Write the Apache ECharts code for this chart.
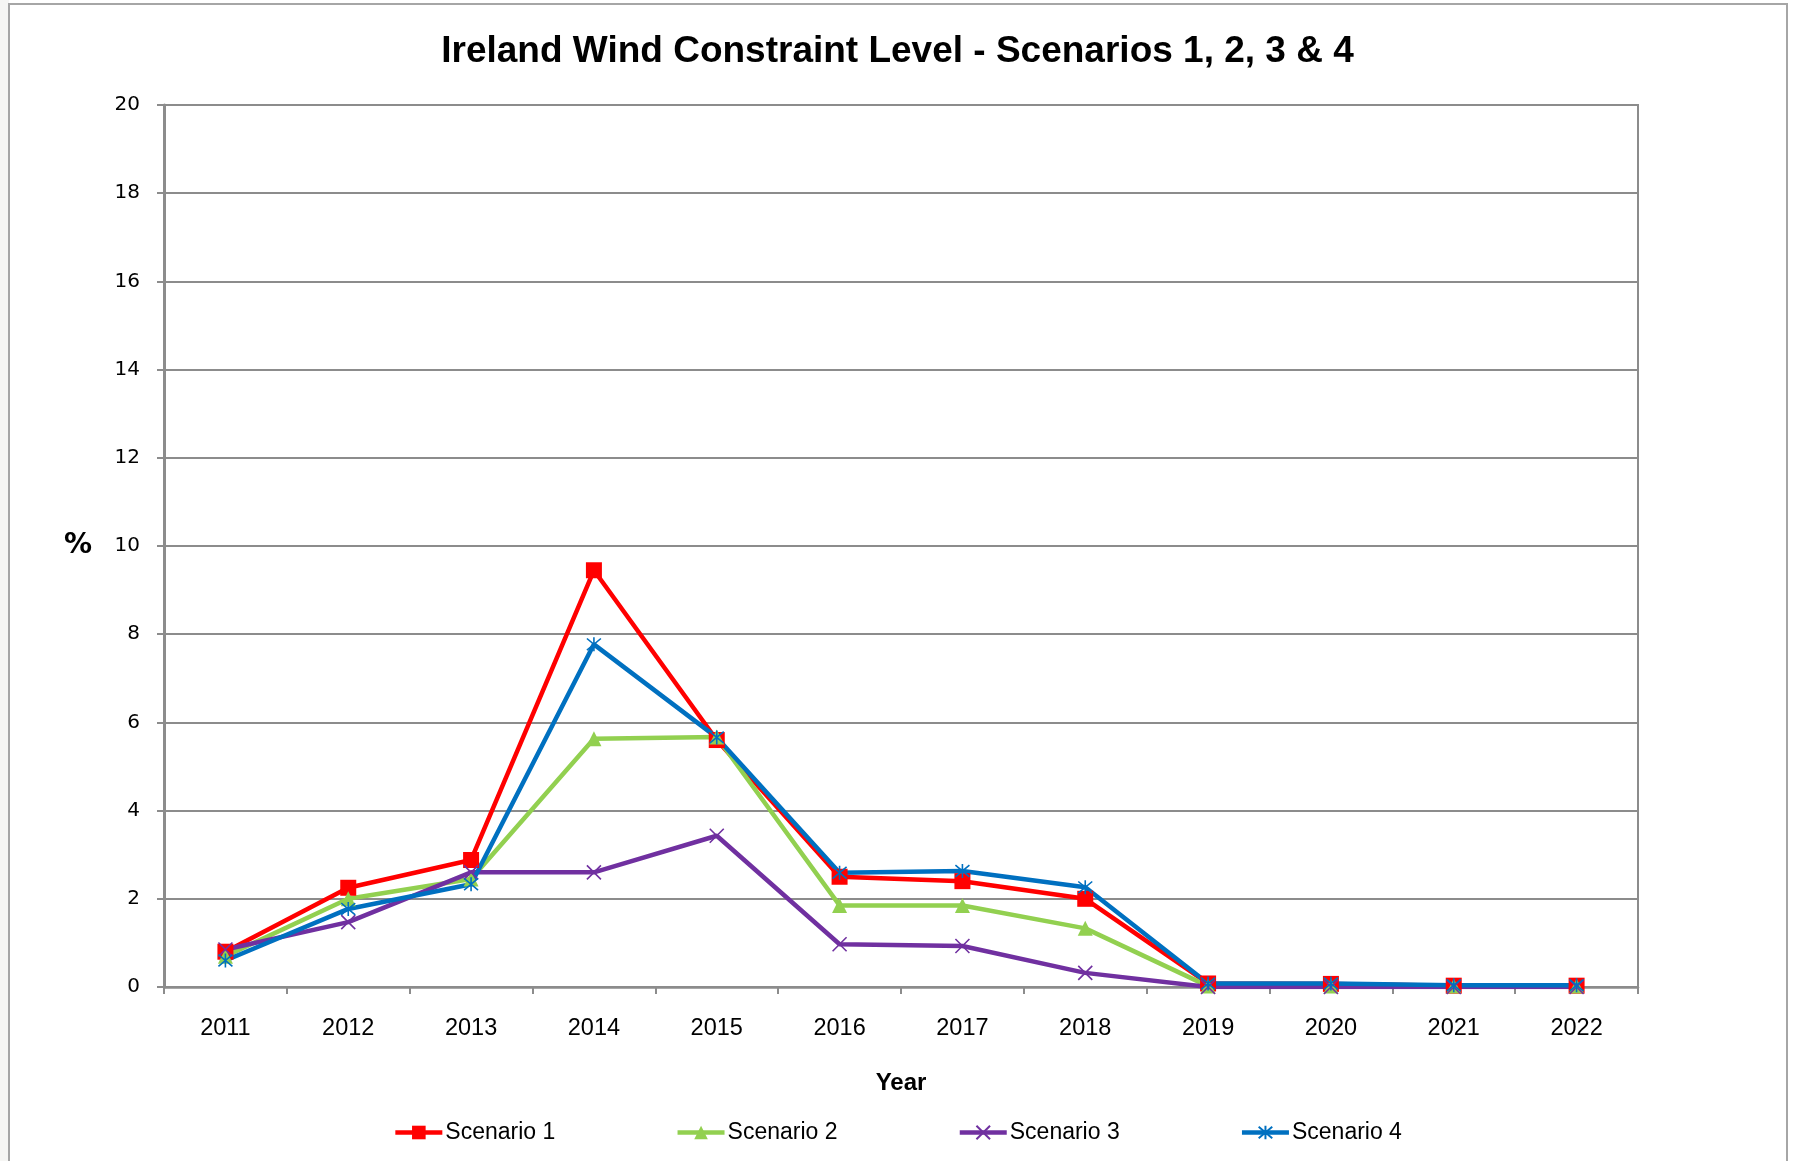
<!DOCTYPE html>
<html>
<head>
<meta charset="utf-8">
<title>Ireland Wind Constraint Level</title>
<script src="https://cdn.jsdelivr.net/npm/echarts@6/dist/echarts.min.js"></script>
<style>
  html, body { margin: 0; padding: 0; background: #fff; }
  #chart { width: 1795px; height: 1161px; }
</style>
</head>
<body>
<div id="chart"></div>
<script>
// categories
const years = ['2011', '2012', '2013', '2014', '2015', '2016', '2017', '2018', '2019', '2020', '2021', '2022']

// constraint level (%) per scenario
const scenario1 = [0.8, 2.25, 2.88, 9.45, 5.6, 2.5, 2.4, 2.0, 0.08, 0.07, 0.03, 0.03]
const scenario2 = [0.7, 2.0, 2.45, 5.63, 5.67, 1.85, 1.85, 1.33, 0.02, 0.02, 0.02, 0.02]
const scenario3 = [0.85, 1.47, 2.6, 2.6, 3.43, 0.97, 0.93, 0.32, 0.0, 0.0, 0.0, 0.0]
const scenario4 = [0.6, 1.77, 2.33, 7.77, 5.66, 2.59, 2.63, 2.26, 0.08, 0.08, 0.04, 0.04]

const seriesNames = ['Scenario 1', 'Scenario 2', 'Scenario 3', 'Scenario 4']

// excel style marker shapes
const crossPath = 'path://M0,0L10,10M10,0L0,10'
const starPath = 'path://M0,0L10,10M10,0L0,10M5,-1L5,11'

const chart = echarts.init(document.getElementById('chart'))

const makeSeries = (name, data, color, symbol, size, stroke) => ({
  name: name,
  type: 'line',
  data: data,
  symbol: symbol,
  symbolSize: size,
  showAllSymbol: true,
  lineStyle: { color: color, width: 4.5 },
  itemStyle: {
    color: color,
    borderColor: color,
    borderWidth: stroke,
  },
  emphasis: { disabled: true },
  animation: false,
})

const option = {
  backgroundColor: '#fff',
  title: {
    text: 'Ireland Wind Constraint Level - Scenarios 1, 2, 3 & 4',
    left: 'center',
    top: 28,
    textStyle: {
      fontFamily: 'Liberation Sans',
      fontWeight: 'bold',
      fontSize: 37,
      color: '#000',
    },
  },
  legend: {
    data: seriesNames,
    left: 'center',
    top: 1116,
    itemWidth: 47,
    itemHeight: 17,
    itemGap: 120,
    lineStyle: { width: 4.5 },
    textStyle: {
      fontFamily: 'Liberation Sans',
      fontSize: 23,
      color: '#000',
      padding: [0, 0, 0, -2],
    },
  },
  grid: {
    left: 164,
    right: 157,
    top: 105,
    bottom: 174,
    show: true,
    borderColor: '#8c8c8c',
    borderWidth: 2,
  },
  xAxis: {
    type: 'category',
    data: years,
    boundaryGap: true,
    name: 'Year',
    nameLocation: 'middle',
    nameGap: 84,
    nameTextStyle: {
      fontFamily: 'Liberation Sans',
      fontWeight: 'bold',
      fontSize: 24,
      color: '#000',
    },
    axisLine: { lineStyle: { color: '#8c8c8c', width: 2.5 } },
    axisTick: { show: true, length: 7, lineStyle: { color: '#8c8c8c', width: 2 } },
    axisLabel: {
      margin: 30,
      fontFamily: 'Liberation Sans',
      fontSize: 23.5,
      color: '#000',
    },
  },
  yAxis: {
    type: 'value',
    min: 0,
    max: 20,
    interval: 2,
    name: '%',
    nameLocation: 'middle',
    nameRotate: 0,
    nameGap: 72,
    nameTextStyle: {
      fontFamily: 'DejaVu Sans',
      fontWeight: 'bold',
      fontSize: 28,
      color: '#000',
    },
    axisLine: { show: true, lineStyle: { color: '#8c8c8c', width: 3 } },
    axisTick: { show: true, length: 7, lineStyle: { color: '#8c8c8c', width: 2 } },
    axisLabel: {
      margin: 24,
      fontFamily: 'DejaVu Sans',
      fontSize: 20,
      color: '#000',
    },
    splitLine: { show: true, lineStyle: { color: '#8c8c8c', width: 2 } },
  },
  series: [
    makeSeries('Scenario 1', scenario1, '#ff0000', 'rect', 16, 0),
    makeSeries('Scenario 2', scenario2, '#92d050', 'triangle', 15, 0),
    makeSeries('Scenario 3', scenario3, '#7030a0', crossPath, 14, 1.6),
    makeSeries('Scenario 4', scenario4, '#0070c0', starPath, 14, 1.6),
  ],
  // outer chart frame
  graphic: [
    {
      type: 'rect',
      shape: { x: 0, y: 0, width: 9, height: 1161 },
      style: { fill: '#f6f6f4' },
      silent: true,
    },
    {
      type: 'rect',
      shape: { x: 9, y: 4, width: 1778, height: 1170 },
      style: { fill: 'none', stroke: '#a6a6a6', lineWidth: 2 },
      silent: true,
    },
  ],
}

chart.setOption(option)
</script>
</body>
</html>
